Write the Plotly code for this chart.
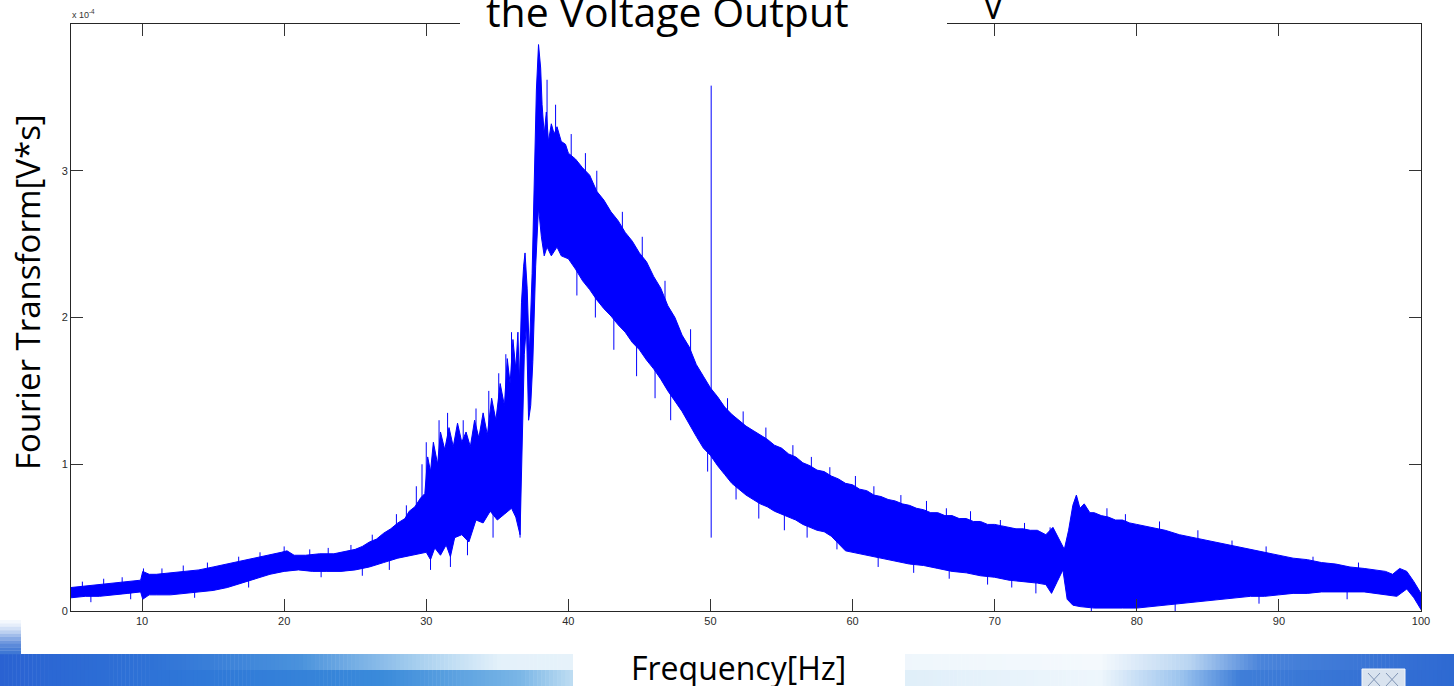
import numpy as np
import plotly.graph_objects as go

# ---------------- data (values in units of 1e-4 V*s) ----------------
# upper envelope of the spectrum band: (frequency Hz, value)
upper_env = [
    (5.0, 0.16), (6.0, 0.17), (7.0, 0.18), (8.0, 0.19), (9.0, 0.20), (9.9, 0.21), (10.05, 0.27),
    (10.5, 0.25), (11.0, 0.25), (12.0, 0.26), (13.0, 0.27), (14.0, 0.28), (15.0, 0.30), (16.0, 0.32),
    (17.0, 0.34), (18.0, 0.36), (19.0, 0.38), (19.8, 0.40), (20.2, 0.41), (20.7, 0.38), (21.5, 0.38),
    (22.5, 0.39), (23.5, 0.39), (24.5, 0.41), (25.0, 0.42), (25.5, 0.44), (26.0, 0.47), (26.5, 0.49),
    (27.0, 0.53), (27.5, 0.56), (28.0, 0.60), (28.5, 0.63), (28.8, 0.68), (29.2, 0.71), (29.6, 0.77),
    (29.9, 0.80), (30.1, 1.05), (30.3, 0.95), (30.5, 1.15), (30.8, 1.00), (31.0, 1.22), (31.3, 1.10),
    (31.6, 1.25), (31.9, 1.12), (32.2, 1.28), (32.5, 1.15), (32.8, 1.22), (33.1, 1.12), (33.4, 1.30),
    (33.7, 1.18), (34.0, 1.35), (34.3, 1.20), (34.6, 1.45), (34.9, 1.30), (35.2, 1.55), (35.5, 1.40),
    (35.7, 1.72), (35.9, 1.55), (36.1, 1.85), (36.3, 1.65), (36.45, 1.90), (36.55, 1.55), (36.7, 2.10),
    (36.85, 2.35), (36.95, 2.44), (37.1, 2.20), (37.25, 1.75), (37.45, 2.30), (37.6, 2.85),
    (37.75, 3.55), (37.9, 3.86), (38.05, 3.70), (38.15, 3.45), (38.3, 3.25), (38.45, 3.40),
    (38.6, 3.20), (38.8, 3.32), (39.0, 3.25), (39.2, 3.30), (39.5, 3.20), (39.8, 3.18),
    (40.0, 3.12), (40.5, 3.08), (41.0, 3.02), (41.5, 2.97), (42.0, 2.86), (42.5, 2.80), (43.0, 2.72),
    (43.5, 2.66), (44.0, 2.58), (44.5, 2.52), (45.0, 2.44), (45.5, 2.38), (46.0, 2.28), (46.5, 2.20),
    (47.0, 2.08), (47.5, 2.00), (48.0, 1.88), (48.5, 1.80), (49.0, 1.68), (49.5, 1.60), (50.0, 1.52),
    (50.5, 1.46), (51.0, 1.39), (51.5, 1.34), (52.0, 1.30), (52.5, 1.26), (53.0, 1.23), (53.5, 1.20),
    (54.0, 1.17), (54.5, 1.13), (55.0, 1.11), (55.5, 1.07), (56.0, 1.05), (56.5, 1.01), (57.0, 0.99),
    (57.5, 0.96), (58.0, 0.95), (58.5, 0.92), (59.0, 0.90), (59.5, 0.87), (60.0, 0.86), (60.5, 0.83),
    (61.0, 0.82), (61.5, 0.79), (62.0, 0.78), (62.5, 0.76), (63.0, 0.75), (63.5, 0.73), (64.0, 0.72),
    (64.5, 0.70), (65.0, 0.69), (65.5, 0.67), (66.0, 0.67), (66.5, 0.65), (67.0, 0.65), (67.5, 0.63),
    (68.0, 0.63), (68.5, 0.61), (69.0, 0.61), (69.5, 0.59), (70.0, 0.59), (70.5, 0.58), (71.0, 0.57),
    (71.5, 0.56), (72.0, 0.56), (72.5, 0.55), (73.0, 0.55), (73.6, 0.52), (74.1, 0.57), (74.5, 0.50),
    (74.9, 0.42), (75.2, 0.55), (75.5, 0.72), (75.75, 0.79), (76.0, 0.70), (76.3, 0.73), (76.7, 0.67),
    (77.0, 0.67), (77.5, 0.65), (78.0, 0.64), (78.5, 0.62), (79.0, 0.62), (79.5, 0.60), (80.0, 0.59),
    (81.0, 0.57), (82.0, 0.55), (83.0, 0.52), (84.0, 0.50), (85.0, 0.48), (86.0, 0.46), (87.0, 0.44),
    (88.0, 0.42), (89.0, 0.40), (90.0, 0.38), (91.0, 0.36), (92.0, 0.35), (93.0, 0.33), (94.0, 0.32),
    (95.0, 0.30), (96.0, 0.29), (97.0, 0.28), (97.5, 0.27), (98.0, 0.25), (98.5, 0.29), (99.0, 0.27),
    (99.5, 0.20), (100.0, 0.12),
]

# lower envelope of the spectrum band: (frequency Hz, value)
lower_env = [
    (5.0, 0.09), (6.0, 0.10), (7.0, 0.10), (8.0, 0.11), (9.0, 0.12), (9.9, 0.13), (10.05, 0.08),
    (10.5, 0.11), (11.0, 0.11), (12.0, 0.11), (13.0, 0.12), (14.0, 0.13), (15.0, 0.14), (16.0, 0.16),
    (17.0, 0.19), (18.0, 0.22), (19.0, 0.25), (20.0, 0.27), (21.0, 0.28), (22.0, 0.27), (23.0, 0.27),
    (24.0, 0.27), (25.0, 0.28), (26.0, 0.30), (27.0, 0.33), (28.0, 0.36), (29.0, 0.38), (30.0, 0.40),
    (30.3, 0.35), (30.6, 0.43), (31.0, 0.38), (31.4, 0.45), (31.7, 0.37), (32.0, 0.50), (32.5, 0.52),
    (33.0, 0.47), (33.5, 0.62), (34.0, 0.60), (34.5, 0.68), (35.0, 0.62), (35.5, 0.66), (36.0, 0.70),
    (36.3, 0.64), (36.6, 0.52), (36.75, 1.20), (36.9, 1.75), (37.05, 1.95), (37.2, 1.30),
    (37.35, 1.40), (37.5, 1.70), (37.7, 2.35), (37.9, 2.75), (38.1, 2.55), (38.3, 2.42), (38.5, 2.48),
    (38.8, 2.42), (39.2, 2.48), (39.5, 2.42),
    (40.0, 2.40), (40.5, 2.33), (41.0, 2.25), (41.5, 2.19), (42.0, 2.12), (42.5, 2.06), (43.0, 2.01),
    (43.5, 1.95), (44.0, 1.90), (44.5, 1.83), (45.0, 1.78), (45.5, 1.71), (46.0, 1.65), (46.5, 1.58),
    (47.0, 1.50), (47.5, 1.43), (48.0, 1.36), (48.5, 1.28), (49.0, 1.19), (49.5, 1.11), (50.0, 1.06),
    (50.5, 0.99), (51.0, 0.93), (51.5, 0.87), (52.0, 0.83), (52.5, 0.79), (53.0, 0.76), (53.5, 0.73),
    (54.0, 0.71), (54.5, 0.68), (55.0, 0.66), (55.5, 0.64), (56.0, 0.62), (56.5, 0.59), (57.0, 0.57),
    (57.5, 0.55), (58.0, 0.54), (58.5, 0.51), (59.0, 0.46), (59.5, 0.41), (60.0, 0.40), (61.0, 0.38),
    (62.0, 0.36), (63.0, 0.34), (64.0, 0.32), (65.0, 0.31), (66.0, 0.29), (67.0, 0.27), (68.0, 0.26),
    (69.0, 0.24), (70.0, 0.23), (71.0, 0.21), (72.0, 0.20), (73.0, 0.19), (73.6, 0.18), (74.0, 0.12),
    (74.4, 0.20), (74.8, 0.28), (75.1, 0.08), (75.5, 0.04), (76.0, 0.03), (77.0, 0.02), (78.0, 0.02),
    (79.0, 0.02), (80.0, 0.02), (81.0, 0.03), (82.0, 0.04), (83.0, 0.05), (84.0, 0.06), (85.0, 0.07),
    (86.0, 0.08), (87.0, 0.09), (88.0, 0.10), (89.0, 0.10), (90.0, 0.11), (91.0, 0.12), (92.0, 0.12),
    (93.0, 0.13), (94.0, 0.13), (95.0, 0.13), (96.0, 0.13), (97.0, 0.12), (97.5, 0.11), (98.3, 0.10),
    (99.0, 0.15), (99.5, 0.09), (100.0, 0.01),
]

# narrow spikes sticking out of the band: (frequency Hz, bottom, top)
spikes = [
    (50.05, 0.50, 3.58),
    # upward
    (5.8, 0.14, 0.20), (7.3, 0.15, 0.22), (8.6, 0.17, 0.23), (10.1, 0.20, 0.29), (11.4, 0.22, 0.29),
    (12.9, 0.24, 0.31), (14.6, 0.26, 0.33), (16.8, 0.28, 0.37), (18.3, 0.32, 0.40), (20.0, 0.35, 0.44),
    (21.8, 0.35, 0.42), (23.1, 0.36, 0.43), (24.7, 0.38, 0.45), (26.2, 0.42, 0.52), (27.9, 0.50, 0.66),
    (28.6, 0.55, 0.72), (29.3, 0.60, 0.85), (29.7, 0.65, 1.00), (30.0, 0.70, 1.15), (30.9, 0.90, 1.30),
    (31.5, 1.00, 1.35), (32.6, 1.00, 1.30), (33.5, 1.00, 1.38), (34.4, 1.10, 1.50), (35.1, 1.20, 1.62),
    (35.6, 1.30, 1.75), (36.0, 1.40, 1.90), (38.5, 3.00, 3.62), (39.1, 3.00, 3.45), (40.2, 2.90, 3.25),
    (41.2, 2.80, 3.12), (42.0, 2.70, 3.00), (43.8, 2.40, 2.72), (45.2, 2.30, 2.55), (46.8, 2.00, 2.25),
    (48.6, 1.70, 1.92), (51.2, 1.30, 1.45), (52.3, 1.20, 1.36), (53.9, 1.10, 1.25), (55.8, 1.00, 1.13),
    (57.1, 0.90, 1.05), (58.4, 0.85, 0.98), (60.2, 0.80, 0.92), (61.5, 0.75, 0.85), (63.4, 0.68, 0.79),
    (65.2, 0.64, 0.75), (66.6, 0.60, 0.70), (68.3, 0.58, 0.68), (70.4, 0.50, 0.62), (72.1, 0.52, 0.60),
    (73.9, 0.45, 0.57), (77.9, 0.58, 0.70), (79.2, 0.55, 0.66), (81.6, 0.52, 0.61), (84.3, 0.46, 0.55),
    (86.7, 0.40, 0.48), (89.1, 0.36, 0.44), (92.4, 0.30, 0.37), (95.6, 0.27, 0.33),
    # downward
    (6.4, 0.06, 0.11), (9.2, 0.08, 0.13), (13.7, 0.09, 0.14), (17.5, 0.16, 0.22), (22.6, 0.23, 0.29),
    (25.5, 0.24, 0.30), (27.4, 0.28, 0.36), (30.3, 0.28, 0.50), (31.7, 0.30, 0.50), (32.9, 0.38, 0.60),
    (34.7, 0.50, 0.80), (36.6, 0.50, 0.90), (40.6, 2.15, 2.40), (41.9, 2.00, 2.20), (43.2, 1.78, 2.00),
    (44.8, 1.60, 1.85), (46.1, 1.45, 1.70), (47.2, 1.30, 1.55), (49.8, 0.95, 1.15), (51.8, 0.76, 0.88),
    (53.4, 0.63, 0.78), (55.2, 0.55, 0.70), (56.8, 0.50, 0.60), (58.9, 0.42, 0.55), (61.8, 0.30, 0.38),
    (64.3, 0.26, 0.35), (66.8, 0.22, 0.29), (69.5, 0.18, 0.26), (71.2, 0.16, 0.23), (72.9, 0.12, 0.21),
    (76.8, 0.00, 0.05), (82.7, 0.00, 0.06), (88.6, 0.05, 0.12), (94.8, 0.08, 0.14),
]

x_ticks = [10, 20, 30, 40, 50, 60, 70, 80, 90, 100]
y_ticks = [0, 1, 2, 3]
y_tick_text = ["0", "1", "2", "3"]

upper_freq = [p[0] for p in upper_env]
upper_val = [p[1] for p in upper_env]
lower_freq = [p[0] for p in lower_env]
lower_val = [p[1] for p in lower_env]

# ---------------- geometry helpers (page pixels -> paper coords) ----------------
W, H = 1454, 686
L, R, T, B = 71, 33, 24, 75
PW, PH = W - L - R, H - T - B


def px(x):
    return (x - L) / PW


def py(y):
    return (H - B - y) / PH


BLUE = "#0000ff"

fig = go.Figure()

band_x = upper_freq + lower_freq[::-1]
band_y = upper_val + lower_val[::-1]
fig.add_trace(go.Scatter(x=band_x, y=band_y, mode="lines", fill="toself",
                         fillcolor=BLUE, line=dict(color=BLUE, width=1),
                         hoverinfo="skip", showlegend=False))

sx, sy = [], []
for f, lo, hi in spikes:
    sx += [f, f, None]
    sy += [lo, hi, None]
fig.add_trace(go.Scatter(x=sx, y=sy, mode="lines", line=dict(color=BLUE, width=1),
                         hoverinfo="skip", showlegend=False))

# ---------------- slide background decoration ----------------
shapes = []


def hex2rgb(h):
    h = h.lstrip("#")
    return [int(h[i:i + 2], 16) for i in (0, 2, 4)]


def grad_strips(x0, x1, y0, y1, stops, n):
    pos = [s[0] for s in stops]
    cols = np.array([hex2rgb(s[1]) for s in stops], dtype=float)
    edges = np.linspace(x0, x1, n + 1)
    for i in range(n):
        xm = (edges[i] + edges[i + 1]) / 2
        c = [int(round(np.interp(xm, pos, cols[:, k]))) for k in range(3)]
        shapes.append(dict(type="rect", xref="paper", yref="paper",
                           x0=px(edges[i]), x1=px(edges[i + 1] + 0.5), y0=py(y1), y1=py(y0),
                           fillcolor="rgb(%d,%d,%d)" % tuple(c), line=dict(width=0),
                           layer="below"))


top_stops = [(0, "#2a62d2"), (150, "#2f72d6"), (300, "#4a92dc"), (420, "#a9d0ef"),
             (500, "#e4f1fa"), (1100, "#f4f9fd"), (1190, "#b8d4f1"), (1260, "#4a84da"),
             (1454, "#2e69d2")]
bot_stops = [(0, "#2a62d2"), (200, "#2f78d8"), (380, "#3a8ada"), (520, "#7ab6e6"),
             (580, "#c8e2f4"), (1100, "#eef6fc"), (1180, "#9cc4ee"), (1240, "#3f7ed8"),
             (1454, "#2e69d2")]
grad_strips(0, 1454, 654, 670, top_stops, 360)
grad_strips(0, 1454, 670, 687, bot_stops, 360)

# left strip beside the figure image (vertical fade)
left_cols = ["#f4f8fd", "#e6eefa", "#d2e0f6", "#bcd0f0", "#a2bdea", "#88aae4",
             "#7098de", "#5c8ada", "#4c7fd6", "#4078d4"]
for i, col in enumerate(left_cols):
    ya = 620 + i * 3.4
    shapes.append(dict(type="rect", xref="paper", yref="paper", x0=px(0), x1=px(21),
                       y0=py(ya + 3.6), y1=py(ya), fillcolor=col, line=dict(width=0),
                       layer="below"))

# white box behind the x-axis label
shapes.append(dict(type="rect", xref="paper", yref="paper", x0=px(573), x1=px(905),
                   y0=py(687), y1=py(654), fillcolor="white", line=dict(width=0), layer="below"))

# small logo bottom right
shapes.append(dict(type="rect", xref="paper", yref="paper", x0=px(1362), x1=px(1405),
                   y0=py(687), y1=py(669), fillcolor="#d9e3ef", line=dict(color="#f4f7fb", width=1),
                   layer="below"))
for xa, xb in [(1368, 1380), (1386, 1398)]:
    shapes.append(dict(type="line", xref="paper", yref="paper", x0=px(xa), x1=px(xb),
                       y0=py(686), y1=py(673), line=dict(color="#7e93b3", width=1), layer="below"))
    shapes.append(dict(type="line", xref="paper", yref="paper", x0=px(xa), x1=px(xb),
                       y0=py(673), y1=py(686), line=dict(color="#7e93b3", width=1), layer="below"))

# white box behind the slide title (covers top axis edge)
shapes.append(dict(type="rect", xref="paper", yref="paper", x0=px(460), x1=px(947),
                   y0=py(40), y1=py(-5), fillcolor="white", line=dict(width=0), layer="above"))

annotations = [
    dict(text="x 10<sup>-4</sup>", xref="paper", yref="paper", x=px(70), y=py(14),
         xanchor="left", yanchor="middle", showarrow=False,
         font=dict(family="Liberation Sans, Arial", size=9, color="#333333")),
    dict(text="the Voltage Output", xref="paper", yref="paper", x=px(667), y=py(11),
         xanchor="center", yanchor="middle", showarrow=False,
         font=dict(family="Open Sans", size=41, color="black")),
    dict(text="V", xref="paper", yref="paper", x=px(993), y=py(6),
         xanchor="center", yanchor="middle", showarrow=False,
         font=dict(family="Open Sans", size=34, color="black")),
    dict(text="Frequency[Hz]", xref="paper", yref="paper", x=px(738), y=py(667),
         xanchor="center", yanchor="middle", showarrow=False,
         font=dict(family="Open Sans", size=32, color="black")),
    dict(text="Fourier Transform[V*s]", xref="paper", yref="paper", x=px(27), y=py(292),
         xanchor="center", yanchor="middle", showarrow=False, textangle=-90,
         font=dict(family="Open Sans", size=33, color="black")),
]

axis_style = dict(showline=True, linecolor="#262626", linewidth=1, mirror="ticks",
                  ticks="inside", ticklen=12, tickwidth=1, tickcolor="#333333",
                  showgrid=False, zeroline=False,
                  tickfont=dict(family="Liberation Sans, Arial", size=11, color="#2b2b2b"))

fig.update_layout(
    width=W, height=H, autosize=False,
    margin=dict(l=L, r=R, t=T, b=B, pad=0),
    paper_bgcolor="white", plot_bgcolor="white",
    xaxis=dict(range=[5, 100], tickvals=x_ticks, **axis_style),
    yaxis=dict(range=[0, 4], tickvals=y_ticks, ticktext=y_tick_text, **axis_style),
    shapes=shapes, annotations=annotations, showlegend=False,
)

fig.write_html("out.html")
